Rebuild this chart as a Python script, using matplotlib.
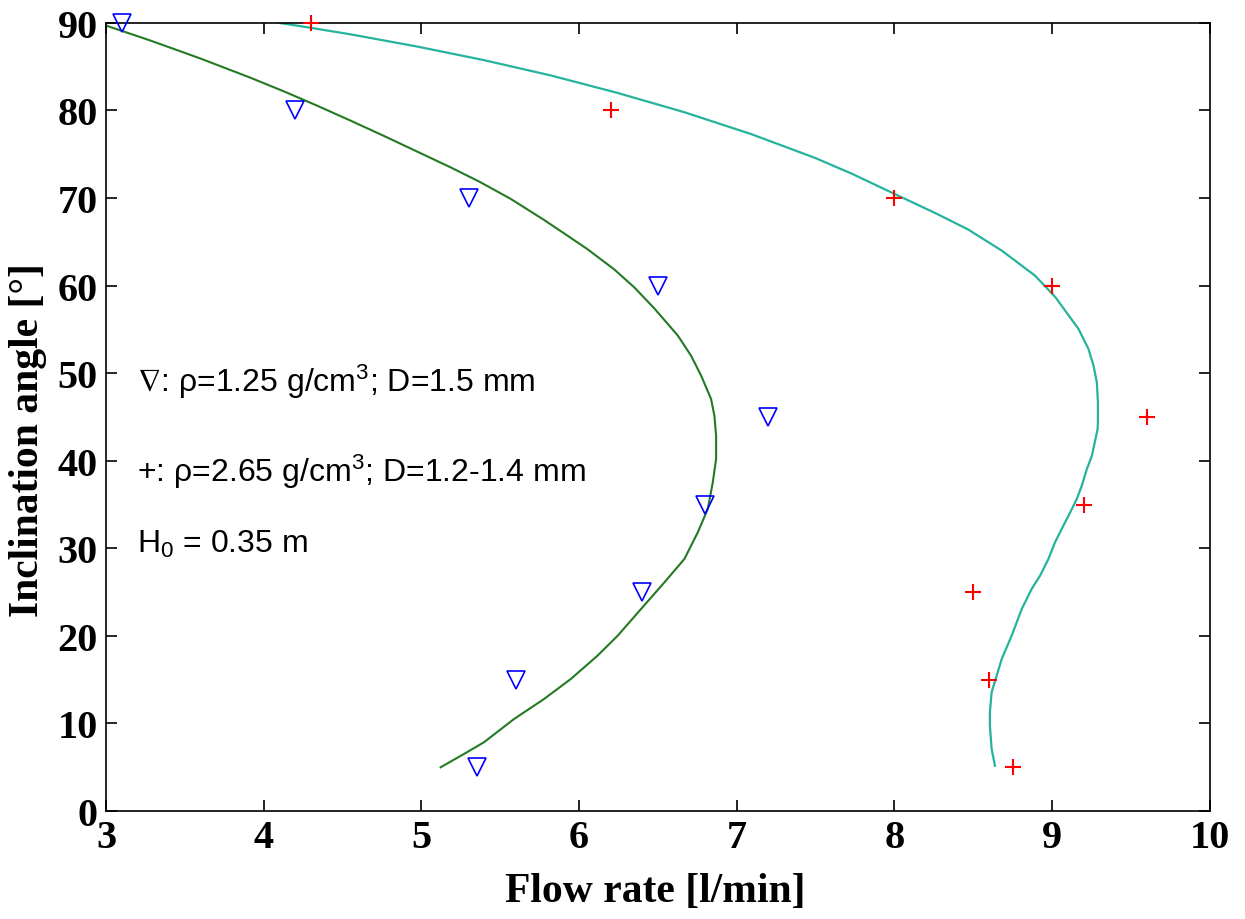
import matplotlib
matplotlib.use("Agg")
import matplotlib.pyplot as plt

# Data markers
tri_x = [3.1, 4.2, 5.3, 6.5, 7.2, 6.8, 6.4, 5.6, 5.35]
tri_y = [90, 80, 70, 60, 45, 35, 25, 15, 5]
plus_x = [4.3, 6.2, 8.0, 9.0, 9.6, 9.2, 8.5, 8.6, 8.75]
plus_y = [90, 80, 70, 60, 45, 35, 25, 15, 5]

# Fitted curves
green_x = [5.122, 5.270, 5.397, 5.588, 5.778, 5.948, 6.117, 6.245, 6.393, 6.541,
           6.668, 6.753, 6.816, 6.848, 6.869, 6.869, 6.858, 6.837, 6.774, 6.710,
           6.626, 6.477, 6.350, 6.223, 6.054, 5.927, 5.778, 5.567, 5.370, 5.186,
           4.974, 4.762, 4.550, 4.339, 4.126, 3.915, 3.597, 3.280, 3.0]
green_y = [4.99, 6.51, 7.85, 10.51, 12.79, 15.08, 17.74, 20.02, 23.07, 26.11,
           28.78, 31.83, 34.49, 37.54, 40.21, 42.87, 45.15, 47.06, 49.72, 52.00,
           54.30, 57.40, 59.80, 61.85, 64.15, 65.70, 67.50, 69.90, 71.85, 73.50,
           75.30, 77.10, 78.85, 80.55, 82.20, 83.75, 85.95, 88.00, 89.70]
teal_x = [8.637, 8.616, 8.605, 8.605, 8.616, 8.648, 8.680, 8.743, 8.807, 8.870,
          8.923, 8.976, 9.018, 9.082, 9.125, 9.156, 9.188, 9.220, 9.252, 9.288,
          9.290, 9.290, 9.283, 9.262, 9.230, 9.167, 9.019, 8.891, 8.680, 8.468,
          8.256, 8.044, 7.727, 7.494, 7.092, 6.668, 6.245, 5.821, 5.397, 4.974,
          4.550, 4.296, 4.10]
teal_y = [5.17, 7.08, 9.74, 11.27, 13.56, 15.45, 17.36, 20.02, 23.07, 25.36,
          26.87, 28.78, 30.69, 32.97, 34.49, 35.64, 37.16, 39.06, 40.58, 43.63,
          44.40, 46.68, 48.97, 50.86, 52.77, 55.05, 58.71, 61.14, 64.00, 66.40,
          68.31, 70.10, 72.80, 74.60, 77.30, 79.80, 82.00, 84.00, 85.75, 87.30,
          88.70, 89.45, 90.0]

x_ticks = [3, 4, 5, 6, 7, 8, 9, 10]
y_ticks = [0, 10, 20, 30, 40, 50, 60, 70, 80, 90]

plt.rcParams['mathtext.fontset'] = 'custom'
plt.rcParams['mathtext.rm'] = 'Liberation Sans'
plt.rcParams['mathtext.it'] = 'Liberation Sans'
plt.rcParams['mathtext.default'] = 'rm'
plt.rcParams['mathtext.fallback'] = 'stix'

fig = plt.figure(figsize=(12.45, 9.2), dpi=100)
ax = fig.add_axes([0.0851, 0.1174, 0.8867, 0.8566])

ax.plot(green_x, green_y, color='#237a23', lw=1.5, zorder=2)
ax.plot(teal_x, teal_y, color='#26b39b', lw=1.6, zorder=2)
ax.plot(tri_x, tri_y, linestyle='none', marker='v', ms=13, mfc='none',
        mec='#0000ff', mew=1.2, clip_on=False, zorder=3)
ax.plot(plus_x, plus_y, linestyle='none', marker='+', ms=12, mec='#ff0000',
        mew=1.5, clip_on=False, zorder=3)

ax.set_xlim(3, 10)
ax.set_ylim(0, 90)
ax.set_xticks(x_ticks)
ax.set_yticks(y_ticks)
ax.tick_params(direction='in', length=8, width=1.2, top=True, right=True,
               pad=6)
for lab in ax.get_xticklabels() + ax.get_yticklabels():
    lab.set_fontfamily('Liberation Serif')
    lab.set_fontweight('bold')
    lab.set_fontsize(29)
for s in ax.spines.values():
    s.set_linewidth(1.2)

fig.text(655 / 1245, 1 - 892 / 920, 'Flow rate [l/min]',
         fontfamily='Liberation Serif', fontweight='bold', fontsize=30,
         ha='center', va='center')
fig.text(28 / 1245, 1 - 440 / 920, 'Inclination angle [°]',
         fontfamily='Liberation Serif', fontweight='bold', fontsize=30,
         ha='center', va='center', rotation=90)

tkw = dict(fontsize=23, ha='left', va='baseline', fontfamily='Liberation Sans')
ax.text(3.2, 48.0, r'$\nabla$: ρ=1.25 g/cm$^{3}$; D=1.5 mm', **tkw)
ax.text(3.2, 37.7, r'+: ρ=2.65 g/cm$^{3}$; D=1.2-1.4 mm', **tkw)
ax.text(3.2, 29.6, r'H$_{0}$ = 0.35 m', **tkw)

fig.savefig('out.png', dpi=100)
